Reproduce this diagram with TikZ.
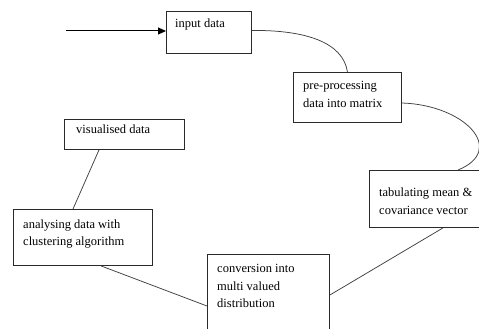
\documentclass[tikz,border=0pt]{standalone}
\usepackage{fontspec}
\setmainfont{Liberation Serif}
\newfontfamily\lserif{Liberation Serif}
\usetikzlibrary{arrows.meta,calc}
\definecolor{boxline}{HTML}{2A2A2A}
\definecolor{conn}{HTML}{404040}
\tikzset{
  box/.style={draw=boxline, line width=0.9pt, rectangle, inner sep=0pt, anchor=north west},
  txt/.style={inner sep=0pt, align=left, anchor=base west, font=\lserif\fontsize{12.5}{17.5}\selectfont, text=black},
  conline/.style={draw=conn, line width=0.75pt},
}
\begin{document}
\begin{tikzpicture}[x=1pt,y=-1pt]
\clip (0,0) rectangle (479,329);
\fill[white] (0,0) rectangle (479,329);
% boxes
\node[box, minimum width=85, minimum height=42] (in) at (166,11) {};
\node[box, minimum width=108, minimum height=50] (pre) at (293,72) {};
\node[box, minimum width=116, minimum height=57] (tab) at (369,170) {};
\node[box, minimum width=120, minimum height=30] (vis) at (64,119) {};
\node[box, minimum width=139, minimum height=56] (ana) at (13,209) {};
\node[box, minimum width=122, minimum height=85] (conv) at (207,254) {};
% texts (anchor = baseline of last line)
\node[txt] (intxt) at (175,28) {input data};
\node[txt] (pretxt) at (303,107) {pre-processing\\data into matrix};
\node[txt] (tabtxt) at (379,214) {tabulating mean \&\\covariance vector};
\node[txt] (vistxt) at (76,133) {visualised data};
\node[txt] (anatxt) at (23,245.5) {analysing data with\\clustering algorithm};
\node[txt] (convtxt) at (217,307.5) {conversion into\\multi valued\\distribution};
% connectors
\coordinate (start) at (66,31);
\draw[draw=black, line width=1pt, -{Triangle[length=8pt,width=7pt]}] (start) -- (in.west |- start);
\draw[conline] ([yshift=2pt]in.east) .. controls (305,30) and (343,42) .. (pre.north);
\draw[conline] ($(pre.north east)+(0,31)$) .. controls (465,105) and (507,150) .. ($(tab.north west)+(89,0)$);
\draw[conline] ($(conv.north east)+(0,41)$) -- ($(tab.south west)+(74,0)$);
\draw[conline] ($(ana.south west)+(88,0)$) -- ($(conv.north west)+(0,52)$);
\draw[conline] ($(vis.south west)+(35,0)$) -- ($(ana.north west)+(60,0)$);
\end{tikzpicture}
\end{document}
